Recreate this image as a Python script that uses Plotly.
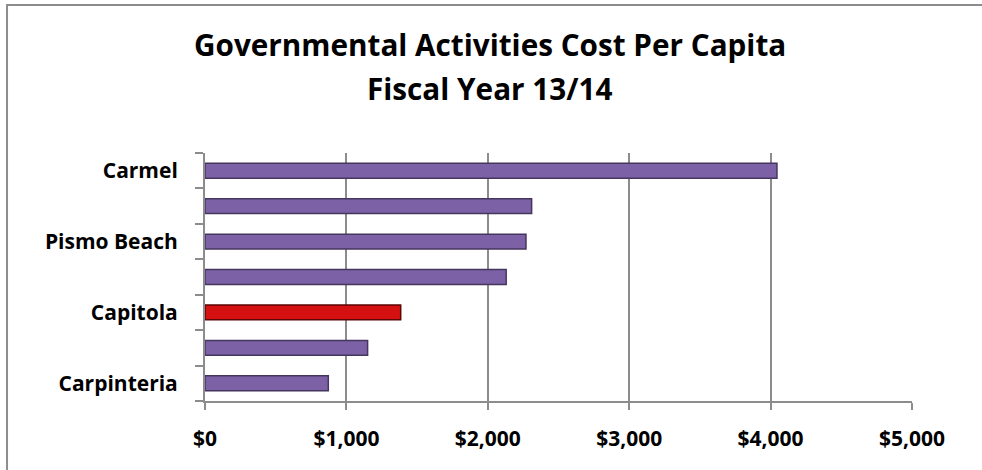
import plotly.graph_objects as go

# Data (bottom to top)
categories = ["Carpinteria", "City 6", "Capitola", "City 4", "Pismo Beach", "City 2", "Carmel"]
tick_labels = ["Carpinteria", "", "Capitola", "", "Pismo Beach", "", "Carmel"]
values = [872, 1150, 1384, 2130, 2270, 2310, 4045]
highlight = "Capitola"

x_tickvals = [0, 1000, 2000, 3000, 4000, 5000]
x_ticktext = ["$0", "$1,000", "$2,000", "$3,000", "$4,000", "$5,000"]

title_lines = ["Governmental Activities Cost Per Capita", "Fiscal Year 13/14"]

fill = ["#D41010" if c == highlight else "#7D61A6" for c in categories]
edge = ["#5C0505" if c == highlight else "#45365E" for c in categories]

font_family = "'Open Sans', Lato, sans-serif"

fig = go.Figure()
fig.add_trace(go.Bar(
    x=values, y=categories, orientation="h",
    width=0.42,
    marker=dict(color=fill, line=dict(color=edge, width=1.5)),
    hoverinfo="x+y",
))

fig.update_layout(
    width=982, height=470,
    margin=dict(l=205, r=70, t=153, b=69),
    paper_bgcolor="white", plot_bgcolor="white",
    showlegend=False,
    font=dict(family=font_family, color="black"),
    xaxis=dict(
        range=[0, 5000], tickvals=x_tickvals, ticktext=x_ticktext,
        showgrid=True, gridcolor="#8C8C8C", gridwidth=2,
        showline=True, linecolor="#8C8C8C", linewidth=2,
        ticks="outside", ticklen=7, tickcolor="#8C8C8C", tickwidth=2,
        tickfont=dict(size=21, family=font_family, color="black", weight="bold"),
        ticklabelstandoff=11,
        zeroline=False, fixedrange=True,
    ),
    yaxis=dict(
        type="category", categoryorder="array", categoryarray=categories,
        tickvals=categories, ticktext=tick_labels,
        tickson="boundaries",
        showgrid=False,
        showline=True, linecolor="#8C8C8C", linewidth=2,
        ticks="outside", ticklen=8, tickcolor="#8C8C8C", tickwidth=2,
        tickfont=dict(size=21, family=font_family, color="black", weight="bold"),
        ticklabelstandoff=21,
        fixedrange=True,
    ),
)

# title lines as annotations
title_y = [1.437, 1.262]
for txt, yy in zip(title_lines, title_y):
    fig.add_annotation(
        text=txt, xref="paper", yref="paper", x=0.403, y=yy,
        xanchor="center", yanchor="middle", showarrow=False,
        font=dict(size=29.7, family=font_family, color="black", weight="bold"),
    )

# outer chart border
fig.add_shape(
    type="rect", xref="paper", yref="paper",
    x0=-0.280, x1=1.3, y0=-0.4, y1=1.597,
    line=dict(color="#8C8C8C", width=2), fillcolor="rgba(0,0,0,0)", layer="below",
)

fig.write_html("out.html")
